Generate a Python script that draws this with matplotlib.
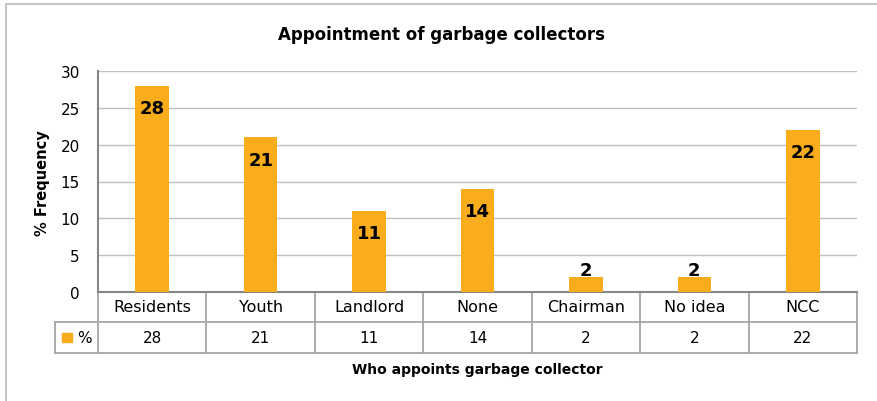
import matplotlib.pyplot as plt
from matplotlib.transforms import blended_transform_factory
from matplotlib.patches import Rectangle

categories = ['Residents', 'Youth', 'Landlord', 'None', 'Chairman', 'No idea', 'NCC']
values = [28, 21, 11, 14, 2, 2, 22]
series_name = '%'

W, H = 877, 402
bar_color = '#F9AC1C'
grid_color = '#BFBFBF'
table_color = '#A6A6A6'

plt.rcParams['font.family'] = ['DejaVu Sans']

fig = plt.figure(figsize=(W / 100, H / 100), dpi=100)

# outer chart border (only top/left visible in the crop)
fig.patches.append(Rectangle((6 / W, -0.1), 1.2, 1 - 5 / H + 0.1, transform=fig.transFigure,
                             fill=False, edgecolor='#BFBFBF', linewidth=1.3))

# plot area in pixels
left, right, top, bottom = 98, 857, 72, 293
ax = fig.add_axes([left / W, 1 - bottom / H, (right - left) / W, (bottom - top) / H])

x = range(len(categories))
bars = ax.bar(x, values, width=0.31, color=bar_color, zorder=3)
ax.set_xlim(-0.5, len(categories) - 0.5)
ax.set_ylim(0, 30)
ax.set_yticks(range(0, 31, 5))
ax.yaxis.grid(True, color=grid_color, linewidth=1, zorder=0)
ax.set_xticks([])
ax.tick_params(axis='y', length=0, pad=13, labelsize=11)
for s in ['top', 'right']:
    ax.spines[s].set_visible(False)
ax.spines['left'].set_color('#868686')
ax.spines['bottom'].set_color('#868686')
ax.spines['left'].set_linewidth(1.5)
ax.spines['bottom'].set_linewidth(1.5)

for xi, v in zip(x, values):
    if v > 5:
        ax.annotate(str(v), (xi, v), xytext=(0, -16), textcoords='offset points',
                    ha='center', va='center', fontsize=13, fontweight='bold')
    else:
        ax.annotate(str(v), (xi, v), xytext=(0, 5), textcoords='offset points',
                    ha='center', va='center', fontsize=13, fontweight='bold')

# data table under the axis
tr = blended_transform_factory(ax.transData, fig.transFigure)
def fy(py):
    return 1 - py / H

row1_top, row1_bot, row2_bot = 293, 323, 354
n = len(categories)
lkw = dict(color=table_color, linewidth=1.3, transform=tr, clip_on=False)
ax.plot([-0.5, n - 0.5], [fy(row1_top)] * 2, **lkw)
ax.plot([-0.5, n - 0.5], [fy(row2_bot)] * 2, **lkw)
xleft_px = 55
fig.add_artist(plt.Line2D([xleft_px / W, left / W], [fy(row1_bot)] * 2, color=table_color, linewidth=1.3))
fig.add_artist(plt.Line2D([xleft_px / W, left / W], [fy(row2_bot)] * 2, color=table_color, linewidth=1.3))
fig.add_artist(plt.Line2D([xleft_px / W] * 2, [fy(row1_bot), fy(row2_bot)], color=table_color, linewidth=1.3))
ax.plot([-0.5, n - 0.5], [fy(row1_bot)] * 2, **lkw)
for i in range(n + 1):
    ax.plot([i - 0.5] * 2, [fy(row1_top), fy(row2_bot)], **lkw)
for xi, c, v in zip(x, categories, values):
    ax.text(xi, fy((row1_top + row1_bot) / 2), c, transform=tr, ha='center', va='center', fontsize=11.5)
    ax.text(xi, fy((row1_bot + row2_bot) / 2), str(v), transform=tr, ha='center', va='center', fontsize=11)

# legend key in table
fig.patches.append(Rectangle((62 / W, fy(343)), 10 / W, 9 / H, transform=fig.transFigure,
                             color=bar_color))
fig.text(77 / W, fy(338.5), series_name, ha='left', va='center', fontsize=11)

fig.text(441 / W, fy(35), 'Appointment of garbage collectors', ha='center', va='center',
         fontsize=12, fontweight='bold')
fig.text(477 / W, fy(370), 'Who appoints garbage collector', ha='center', va='center',
         fontsize=10, fontweight='bold')
fig.text(42 / W, fy(183), '% Frequency', ha='center', va='center', rotation=90,
         fontsize=10.5, fontweight='bold')

fig.savefig('out.png', dpi=100)
